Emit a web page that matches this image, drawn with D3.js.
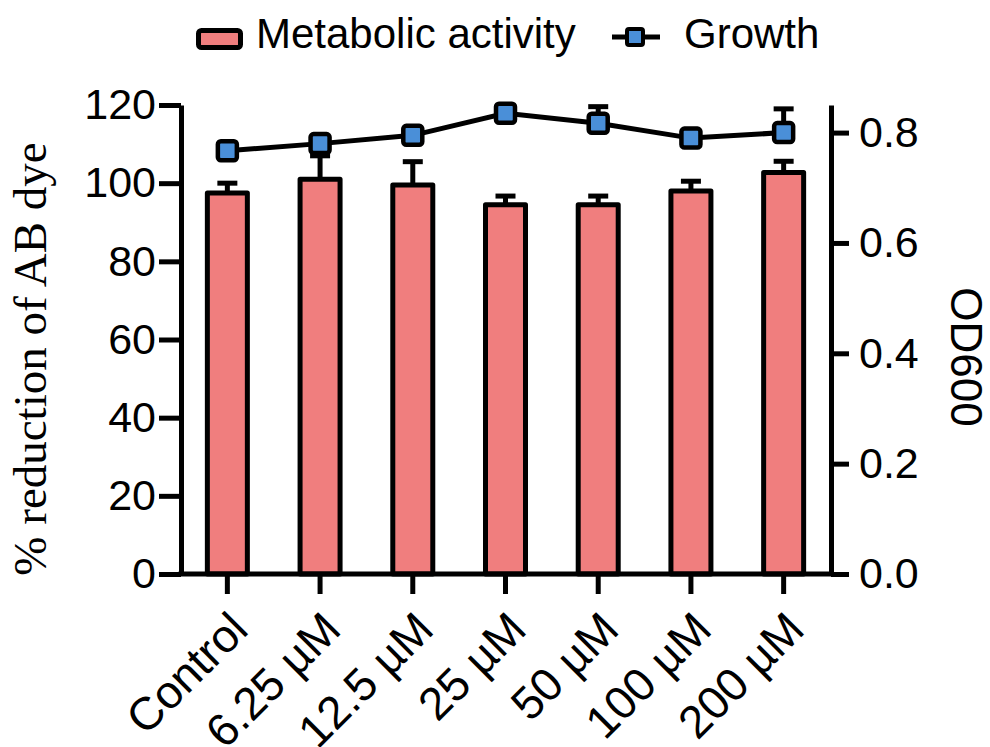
<!DOCTYPE html>
<html>
<head>
<meta charset="utf-8">
<script src="https://cdn.jsdelivr.net/npm/d3@7"></script>
<style>
  body { margin: 0; background: #fff; }
  svg { display: block; }
  .axis text { font-family: "Liberation Sans", Arial, sans-serif; font-size: 43px; fill: #000; }
  .axis path, .axis line { stroke: #000; stroke-width: 5; }
  .xaxis text { font-size: 46px; }
</style>
</head>
<body>
<div class="chart"></div>
<script>
var width = 990;
var height = 747;

var categories = ["Control", "6.25 µM", "12.5 µM", "25 µM", "50 µM", "100 µM", "200 µM"];
var activity = [97.5, 101, 99.5, 94.5, 94.5, 98, 102.7];
var activityErr = [2.5, 6, 6, 2.2, 2.2, 2.5, 2.9];
var growth = [0.767, 0.780, 0.795, 0.835, 0.817, 0.790, 0.800];
var growthErr = [0.006, 0.012, 0.006, 0.006, 0.03, 0.012, 0.043];
var leftTicks = [0, 20, 40, 60, 80, 100, 120];
var rightTicks = [0, 0.2, 0.4, 0.6, 0.8];

var barColor = "#f07e7e";
var dotColor = "#4a8fd8";

var plotLeft = 181, plotRight = 831, plotTop = 105, plotBottom = 574;

var svg = d3.select("div.chart").append("svg")
    .attr("width", width)
    .attr("height", height);

var x = d3.scaleBand().domain(categories).range([plotLeft, 830]).padding(0);
var yL = d3.scaleLinear().domain([0, 120]).range([plotBottom, plotTop]);
var yR = d3.scaleLinear().domain([0, 0.85]).range([plotBottom, plotTop]);

var barW = 40;

function cx(i) { return x(categories[i]) + x.bandwidth() / 2 }

// bar error bars (upper only), drawn first so bars sit over them
var barErr = svg.append("g");
categories.forEach(function(c, i) {
  var hi = yL(activity[i] + activityErr[i]);
  barErr.append("line")
      .attr("x1", cx(i)).attr("x2", cx(i))
      .attr("y1", yL(activity[i])).attr("y2", hi)
      .attr("stroke", "#000").attr("stroke-width", 5);
  barErr.append("line")
      .attr("x1", cx(i) - 10).attr("x2", cx(i) + 10)
      .attr("y1", hi).attr("y2", hi)
      .attr("stroke", "#000").attr("stroke-width", 5);
});

svg.append("g").selectAll("rect").data(activity).enter()
    .append("rect")
    .attr("x", function(d, i) { return cx(i) - barW / 2 })
    .attr("y", function(d) { return yL(d) })
    .attr("width", barW)
    .attr("height", function(d) { return yL(0) - yL(d) })
    .attr("fill", barColor)
    .attr("stroke", "#000")
    .attr("stroke-width", 5)
    .attr("stroke-linejoin", "round");

// growth line with upper error bars and markers
var gLine = d3.line()
    .x(function(d, i) { return cx(i) })
    .y(function(d) { return yR(d) });

var gErr = svg.append("g");
categories.forEach(function(c, i) {
  var hi = yR(growth[i] + growthErr[i]);
  gErr.append("line").attr("x1", cx(i)).attr("x2", cx(i)).attr("y1", yR(growth[i])).attr("y2", hi)
      .attr("stroke", "#000").attr("stroke-width", 5);
  gErr.append("line").attr("x1", cx(i) - 10).attr("x2", cx(i) + 10).attr("y1", hi).attr("y2", hi)
      .attr("stroke", "#000").attr("stroke-width", 5);
});

svg.append("path")
    .datum(growth)
    .attr("d", gLine)
    .attr("fill", "none")
    .attr("stroke", "#000")
    .attr("stroke-width", 5);

svg.append("g").selectAll("rect").data(growth).enter()
    .append("rect")
    .attr("x", function(d, i) { return cx(i) - 9.5 })
    .attr("y", function(d) { return yR(d) - 9.5 })
    .attr("width", 19)
    .attr("height", 19)
    .attr("rx", 3)
    .attr("fill", dotColor)
    .attr("stroke", "#000")
    .attr("stroke-width", 4.5);

// axes
svg.append("g")
    .attr("class", "axis")
    .attr("transform", "translate(" + plotLeft + ",0)")
    .call(d3.axisLeft(yL).tickValues(leftTicks).tickSize(22).tickSizeOuter(0).tickPadding(3));

svg.append("g")
    .attr("class", "axis")
    .attr("transform", "translate(" + plotRight + ",0)")
    .call(d3.axisRight(yR).tickValues(rightTicks).tickSize(18).tickSizeOuter(0).tickPadding(10)
      .tickFormat(d3.format(".1f")));

var xAxis = svg.append("g")
    .attr("class", "axis xaxis")
    .attr("transform", "translate(0," + plotBottom + ")")
    .call(d3.axisBottom(x).tickSize(20).tickSizeOuter(0));
xAxis.select(".domain").attr("d", "M" + (plotLeft - 2.5) + ",0H" + (plotRight + 2.5));
xAxis.selectAll("text")
    .attr("y", 0).attr("dy", 0)
    .attr("text-anchor", "end")
    .attr("transform", "translate(23,58) rotate(-45)");

// axis titles
svg.append("text")
    .attr("transform", "translate(46,359) rotate(-90)")
    .attr("text-anchor", "middle")
    .style("font-family", "'Liberation Serif', 'Times New Roman', serif")
    .style("font-size", "47px")
    .text("% reduction of AB dye");

svg.append("text")
    .attr("transform", "translate(951,357) rotate(90)")
    .attr("text-anchor", "middle")
    .style("font-family", "'Liberation Sans', Arial, sans-serif")
    .style("font-size", "44px")
    .text("OD600");

// legend
var legend = svg.append("g")
    .style("font-family", "'Liberation Sans', Arial, sans-serif")
    .style("font-size", "42px");

legend.append("rect")
    .attr("x", 198.5).attr("y", 30.5).attr("width", 42).attr("height", 17).attr("rx", 3)
    .attr("fill", barColor).attr("stroke", "#000").attr("stroke-width", 5);
legend.append("text").attr("x", 256).attr("y", 48).text("Metabolic activity");

legend.append("line")
    .attr("x1", 612).attr("x2", 660).attr("y1", 37).attr("y2", 37)
    .attr("stroke", "#000").attr("stroke-width", 5);
legend.append("rect")
    .attr("x", 627).attr("y", 29).attr("width", 16).attr("height", 16).attr("rx", 2)
    .attr("fill", dotColor).attr("stroke", "#000").attr("stroke-width", 4);
legend.append("text").attr("x", 684).attr("y", 48).text("Growth");
</script>
</body>
</html>
